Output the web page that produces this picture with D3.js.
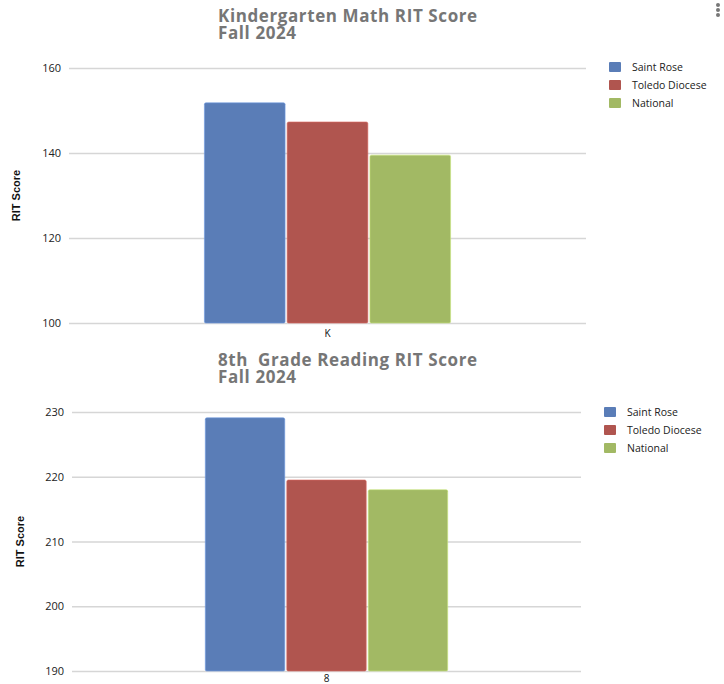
<!DOCTYPE html>
<html>
<head>
<meta charset="utf-8">
<script src="https://cdn.jsdelivr.net/npm/d3@7"></script>
<style>
  body { margin: 0; background: #fff; }
  svg { display: block; }
</style>
</head>
<body>
<div id="chart"></div>
<script>
const series = ["Saint Rose", "Toledo Diocese", "National"];
const colors = ["#5a7db7", "#b0554f", "#a2b964"];

const mathCategories = ["K"];
const mathValues = [151.8, 147.3, 139.5];
const mathTicks = [100, 120, 140, 160];

const readCategories = ["8"];
const readValues = [229.1, 219.5, 218.0];
const readTicks = [190, 200, 210, 220, 230];

const svg = d3.select("#chart")
    .append("svg")
    .attr("width", 724)
    .attr("height", 684);

// kebab menu
svg.selectAll(".dot")
    .data([0, 1, 2])
    .enter()
    .append("circle")
    .attr("cx", 718)
    .attr("cy", d => 5 + d * 5)
    .attr("r", 2)
    .attr("fill", "#777");

function drawChart(opts) {
    const g = svg.append("g");

    const y = d3.scaleLinear()
        .domain(d3.extent(opts.ticks))
        .range([opts.bottom, opts.top]);

    const x0 = d3.scaleBand()
        .domain(opts.categories)
        .range([opts.left, opts.right])
        .paddingInner(0)
        .paddingOuter(0.55);

    const x1 = d3.scaleBand()
        .domain(series)
        .range([0, x0.bandwidth()])
        .paddingInner(0.025);

    // title
    opts.title.forEach((t, i) => {
        g.append("text")
            .attr("x", opts.titleX)
            .attr("y", opts.titleY + i * 17)
            .attr("fill", "#767676")
            .style("font-family", "'Open Sans', sans-serif")
            .style("font-weight", "bold")
            .style("font-size", "17px")
            .style("letter-spacing", "0.6px")
            .style("white-space", "pre")
            .text(t);
    });

    // grid + tick labels
    const yAxis = d3.axisLeft(y)
        .tickValues(opts.ticks)
        .tickSize(-(opts.right - opts.left))
        .tickPadding(8);

    const ax = g.append("g")
        .attr("transform", `translate(${opts.left},0)`)
        .call(yAxis);
    ax.select(".domain").remove();
    ax.selectAll(".tick line")
        .attr("stroke", "#d6d6d6")
        .attr("stroke-width", 1.3);
    ax.selectAll(".tick text")
        .attr("fill", "#222")
        .style("font-family", "'Open Sans', sans-serif")
        .style("font-size", "11px");

    // y axis title
    g.append("text")
        .attr("transform", `translate(${opts.yTitleX},${(opts.top + opts.bottom) / 2}) rotate(-90)`)
        .attr("text-anchor", "middle")
        .attr("fill", "#111")
        .style("font-family", "'Liberation Sans Narrow', 'Arial Narrow', sans-serif")
        .style("font-weight", "bold")
        .style("font-size", "11px")
        .text("RIT Score");

    // bars
    opts.categories.forEach(cat => {
        g.selectAll(".bar-" + cat)
            .data(opts.values)
            .enter()
            .append("rect")
            .attr("x", (d, i) => x0(cat) + x1(series[i]))
            .attr("y", d => y(d))
            .attr("width", x1.bandwidth())
            .attr("height", d => opts.bottom - y(d))
            .attr("rx", 1.5)
            .attr("fill", (d, i) => colors[i])
            .attr("stroke", (d, i) => d3.color(colors[i]).brighter(0.6))
            .attr("stroke-width", 0.6);

        g.append("text")
            .attr("x", x0(cat) + x0.bandwidth() / 2)
            .attr("y", opts.bottom + opts.catOffset)
            .attr("text-anchor", "middle")
            .attr("fill", "#111")
            .style("font-family", "'Open Sans', sans-serif")
            .style("font-size", "10px")
            .text(cat);
    });

    // legend
    const leg = g.selectAll(".legend")
        .data(series)
        .enter()
        .append("g")
        .attr("transform", (d, i) => `translate(${opts.legendX},${opts.legendY + i * 18})`);
    leg.append("rect")
        .attr("width", 12)
        .attr("height", 10)
        .attr("rx", 1)
        .attr("fill", (d, i) => colors[i]);
    leg.append("text")
        .attr("x", 23)
        .attr("y", 9)
        .attr("fill", "#222")
        .style("font-family", "'Open Sans', sans-serif")
        .style("font-size", "10.5px")
        .text(d => d);
}

drawChart({
    title: ["Kindergarten Math RIT Score", "Fall 2024"],
    titleX: 218, titleY: 22,
    categories: mathCategories, values: mathValues, ticks: mathTicks,
    left: 69, right: 586, top: 68, bottom: 323,
    catOffset: 14,
    yTitleX: 20,
    legendX: 609, legendY: 62
});

drawChart({
    title: ["8th  Grade Reading RIT Score", "Fall 2024"],
    titleX: 218, titleY: 366,
    categories: readCategories, values: readValues, ticks: readTicks,
    left: 72, right: 581, top: 412, bottom: 671,
    catOffset: 11,
    yTitleX: 24,
    legendX: 604, legendY: 407
});
</script>
</body>
</html>
